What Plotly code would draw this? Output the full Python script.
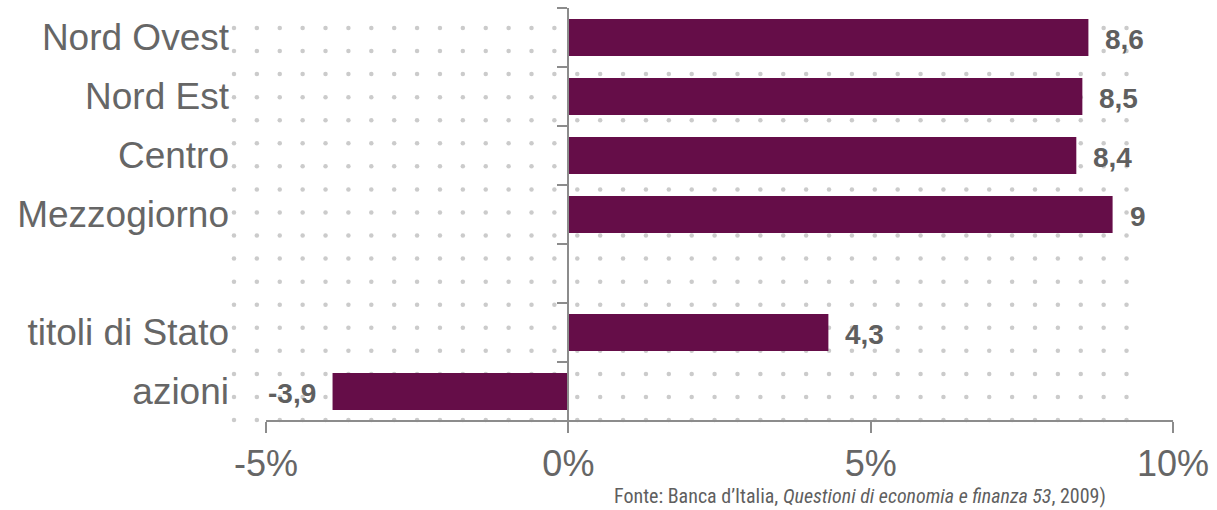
import numpy as np
import plotly.graph_objects as go

# ---- data ----
categories = ["Nord Ovest", "Nord Est", "Centro", "Mezzogiorno", " ", "titoli di Stato", "azioni"]
values = [8.6, 8.5, 8.4, 9.0, None, 4.3, -3.9]
x_tick_vals = [-5, 0, 5, 10]
x_tick_text = ["-5%", "0%", "5%", "10%"]
source_text = "Fonte: Banca d’Italia, <i>Questioni di economia e finanza 53</i>, 2009)"

# ---- styling ----
W, H = 1217, 510
L, R, T, B = 231, 1190, 8, 421
BAR_COLOR = "#650D48"
AXIS_COLOR = "#8C8C8C"
TEXT_COLOR = "#666666"
LABEL_COLOR = "#5F5F5F"
FONT = "Arial"
ZERO_PX = 570.5
PX_PER_UNIT = 60.85

xmin = (L - ZERO_PX) / PX_PER_UNIT
xmax = (R - ZERO_PX) / PX_PER_UNIT

fig = go.Figure()

# background dotted pattern (decoration, in pixel coordinates on base axes)
dx = np.arange(40) * 23.03 + 234
dy = np.arange(18) * 23.06 + 28
gx, gy = np.meshgrid(dx, dy)
fig.add_trace(go.Scatter(
    x=gx.ravel(), y=gy.ravel(), mode="markers",
    marker=dict(size=4.5, color="#CBCBCB"),
    hoverinfo="skip", showlegend=False, cliponaxis=False,
    xaxis="x", yaxis="y",
))

# bars
fig.add_trace(go.Bar(
    y=categories, x=values, orientation="h",
    marker=dict(color=BAR_COLOR, line=dict(width=0)),
    width=0.63, showlegend=False,
    xaxis="x2", yaxis="y2",
))

# helper trace for the zero-line axis with category-boundary ticks
fig.add_trace(go.Scatter(x=[None], y=[None], xaxis="x2", yaxis="y3",
                         showlegend=False, hoverinfo="skip"))

annotations = []
for c, v in zip(categories, values):
    if v is None:
        continue
    lab = f"{v:g}".replace(".", ",")
    annotations.append(dict(
        x=v, y=c, xref="x2", yref="y2", text=f"<b>{lab}</b>", showarrow=False,
        xanchor="left" if v >= 0 else "right",
        xshift=15 if v >= 0 else -15, yshift=-2,
        font=dict(family=FONT, size=28, color=LABEL_COLOR),
    ))

annotations.append(dict(
    x=(864 - L) / (R - L), y=(B - 496) / (B - T), xref="paper", yref="paper",
    text=source_text, showarrow=False, xanchor="center", yanchor="middle",
    font=dict(family="Liberation Sans Narrow, Roboto Condensed, DejaVu Sans Condensed, Arial", size=20, color=LABEL_COLOR),
))

fig.update_layout(
    width=W, height=H,
    margin=dict(l=L, r=W - R, t=T, b=H - B, pad=0),
    paper_bgcolor="white", plot_bgcolor="white",
    font=dict(family=FONT),
    xaxis=dict(range=[L, R], visible=False, fixedrange=True),
    yaxis=dict(range=[B, T], visible=False, fixedrange=True),
    xaxis2=dict(
        overlaying="x", anchor="y2", side="bottom",
        range=[xmin, xmax], tickvals=x_tick_vals, ticktext=x_tick_text,
        ticks="outside", ticklen=11, tickwidth=2, tickcolor=AXIS_COLOR,
        showline=False, showgrid=False, zeroline=False,
        tickfont=dict(family=FONT, size=36, color=TEXT_COLOR),
    ),
    yaxis2=dict(
        overlaying="y", anchor="x2", side="left",
        type="category", categoryorder="array", categoryarray=categories,
        range=[6.5, -0.5], ticks="", showline=False, showgrid=False, zeroline=False,
        ticklabelstandoff=1,
        tickfont=dict(family=FONT, size=37, color=TEXT_COLOR),
    ),
    yaxis3=dict(
        overlaying="y", anchor="free", position=(ZERO_PX - L) / (R - L), side="left",
        range=[6.5, -0.5], tickvals=[i - 0.5 for i in range(8)],
        ticks="outside", ticklen=10, tickwidth=2, tickcolor=AXIS_COLOR,
        showline=True, linewidth=2, linecolor=AXIS_COLOR,
        showticklabels=False, showgrid=False, zeroline=False,
    ),
    shapes=[dict(type="line", xref="x2", yref="paper", x0=-5, x1=10, y0=0, y1=0,
                 line=dict(color=AXIS_COLOR, width=2), layer="above")],
    annotations=annotations,
    bargap=0.37,
)

fig.write_html("out.html")
